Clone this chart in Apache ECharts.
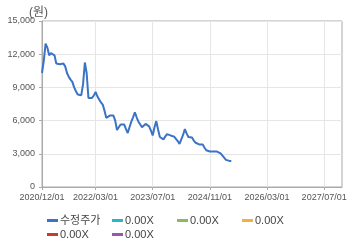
<!DOCTYPE html>
<html>
<head>
<meta charset="utf-8">
<script src="https://cdn.jsdelivr.net/npm/echarts@6/dist/echarts.min.js"></script>
<style>html,body{margin:0;padding:0;background:#fff}#c{width:360px;height:248px}</style>
</head>
<body>
<div id="c"></div>
<script>
// Semi-monthly price series (수정주가), starting 2020/12/01
const priceValues = [
  10300, 11400, 12950, 12600, 11900, 12100, 12100, 11900, 11150, 11100,
  11100, 11150, 11150, 10900, 10300, 9950, 9700, 9500, 9000, 8650,
  8350, 8300, 8300, 9300, 11250, 10300, 8050, 8050, 8050, 8250,
  8600, 8200, 7900, 7650, 7450, 6900, 6250, 6350, 6450, 6550,
  6450, 6000, 5150, 5400, 5650, 5700, 5650, 5250, 4880, 5400,
  5900, 6300, 6750, 6300, 5900, 5650, 5400, 5550, 5700, 5600,
  5480, 5100, 4660, 5400, 5950, 5200, 4520, 4400, 4300, 4550,
  4780, 4720, 4660, 4620, 4550, 4350, 4150, 3900, 4300, 4700,
  5240, 4850, 4520, 4500, 4480, 4200, 4000, 3830, 3850, 3870,
  3850, 3550, 3320, 3250, 3210, 3210, 3210, 3210, 3200, 3110,
  3030, 2850, 2650, 2450, 2360, 2360, 2360
];
const tickLabels = ['2020/12/01', '2022/03/01', '2023/07/01', '2024/11/01', '2026/03/01', '2027/07/01'];
const yTicks = [0, 3000, 6000, 9000, 12000, 15000];
const seriesNames = ['수정주가', '0.00X', '0.00X', '0.00X', '0.00X', '0.00X'];
const seriesColors = ['#3b73c5', '#2db6c1', '#8cb862', '#f0b245', '#c9392f', '#9559a8'];

// semi-monthly categories 2020/12/01 .. 2027/12/01
const categories = [];
for (let y = 2020, m = 12, i = 0; i < 169; i++) {
  const half = i % 2;
  categories.push(y + '/' + String(m).padStart(2, '0') + '/' + (half ? '16' : '01'));
  if (half) { m++; if (m > 12) { m = 1; y++; } }
}

const FONT = '"Liberation Sans", "Noto Sans CJK KR", Arial, sans-serif';
const isTick = (idx, val) => tickLabels.includes(val);

const legendPos = [
  {left: 47, top: 215}, {left: 112, top: 215}, {left: 177, top: 215},
  {left: 242, top: 215}, {left: 47, top: 229}, {left: 112, top: 229}
];

const chart = echarts.init(document.getElementById('c'), null, {renderer: 'canvas'});
chart.setOption({
  animation: false,
  textStyle: {fontFamily: FONT},
  title: {
    text: '(원)', left: 24, top: 2,
    textStyle: {fontSize: 12, fontWeight: 'normal', color: '#555', fontFamily: FONT}
  },
  grid: {
    left: 42, right: 18, top: 21, bottom: 61,
    show: true, borderColor: '#aaaaaa', borderWidth: 1,
    containLabel: false, outerBoundsMode: 'none'
  },
  legend: seriesNames.map((n, i) => ({
    left: legendPos[i].left, top: legendPos[i].top, padding: 0,
    icon: 'rect', itemWidth: 11, itemHeight: 3,
    textStyle: {fontSize: 11, color: '#444', fontFamily: FONT, padding: [0, 0, 0, -3]},
    selectedMode: false,
    data: [{name: n, itemStyle: {color: seriesColors[i]}}]
  })),
  xAxis: {
    type: 'category', data: categories, boundaryGap: false,
    axisLine: {lineStyle: {color: '#aaaaaa'}},
    axisTick: {show: true, interval: isTick, length: 3, lineStyle: {color: '#aaaaaa'}},
    axisLabel: {interval: isTick, fontSize: 9, color: '#555', margin: 6, fontFamily: FONT},
    splitLine: {show: true, interval: isTick, lineStyle: {color: '#e6e6e6'}}
  },
  yAxis: {
    type: 'value', min: yTicks[0], max: yTicks[yTicks.length - 1], interval: 3000,
    axisLine: {show: true, lineStyle: {color: '#aaaaaa'}},
    axisTick: {show: true, length: 3, lineStyle: {color: '#aaaaaa'}},
    axisLabel: {fontSize: 9, color: '#555', margin: 7, fontFamily: FONT,
      formatter: v => v.toLocaleString('en-US')},
    splitLine: {show: true, lineStyle: {color: '#e6e6e6'}}
  },
  series: seriesNames.map((n, i) => ({
    name: n, type: 'line', symbol: 'none',
    data: i === 0 ? priceValues : [],
    lineStyle: {width: 2, color: seriesColors[i]},
    itemStyle: {color: seriesColors[i]}
  }))
});
</script>
</body>
</html>
